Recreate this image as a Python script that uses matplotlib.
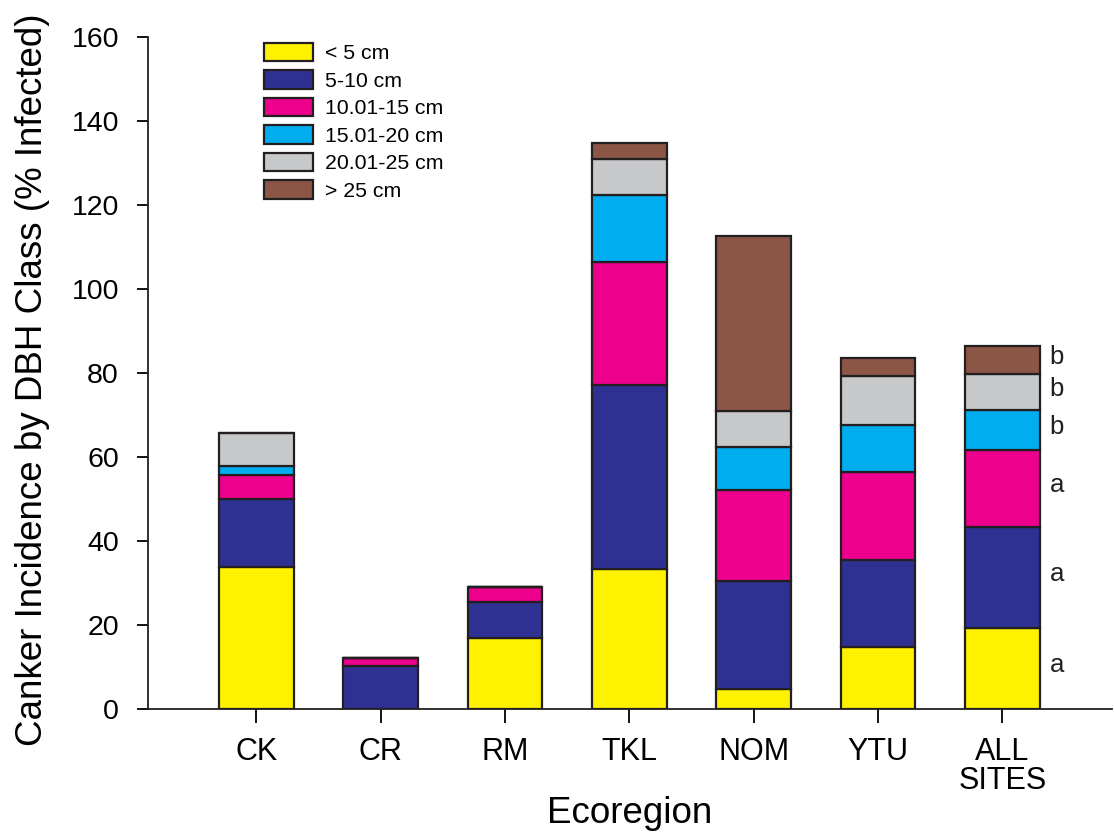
import numpy as np
import matplotlib
matplotlib.use("Agg")
import matplotlib.pyplot as plt

plt.rcParams['font.family'] = ['Liberation Sans', 'DejaVu Sans']

# Ecoregions and DBH classes
ecoregions = ['CK', 'CR', 'RM', 'TKL', 'NOM', 'YTU', 'ALL\nSITES']
classes = ['< 5 cm', '5-10 cm', '10.01-15 cm', '15.01-20 cm', '20.01-25 cm', '> 25 cm']

# Percent infected per class (segment heights, stacked)
lt5 = [33.8, 0.0, 16.9, 33.3, 4.8, 14.8, 19.3]
c5_10 = [16.2, 10.2, 8.6, 43.8, 25.7, 20.7, 24.0]
c10_15 = [5.7, 1.9, 3.5, 29.3, 21.6, 20.9, 18.4]
c15_20 = [2.2, 0.0, 0.0, 16.0, 10.3, 11.2, 9.5]
c20_25 = [7.8, 0.0, 0.0, 8.6, 8.6, 11.7, 8.6]
gt25 = [0.0, 0.0, 0.0, 3.8, 41.6, 4.3, 6.6]

# Significance letters for ALL SITES
letters = ['a', 'a', 'a', 'b', 'b', 'b']

colores = ['#FFF200', '#2E3192', '#EC008C', '#00AEEF', '#C7C8CA', '#8B5646']
series = [lt5, c5_10, c10_15, c15_20, c20_25, gt25]

fig = plt.figure(figsize=(11.14, 8.35), dpi=100)
ax = fig.add_axes([0.1329, 0.1509, 0.865, 0.8048])

x = np.arange(len(ecoregions))
bottom = np.zeros(len(ecoregions))
for vals, col, lab in zip(series, colores, classes):
    vals = np.array(vals)
    ax.bar(x, vals, width=0.6, bottom=bottom, color=col, edgecolor='#231F20',
           linewidth=1.6, label=lab)
    bottom = bottom + vals

# letters next to ALL SITES
base = 0.0
for vals, let in zip(series, letters):
    h = vals[-1]
    ax.text(x[-1] + 0.44, base + h / 2 + 0.8, let, fontsize=18.5, ha='center',
            va='center', color='#231F20')
    base += h

ax.set_xlim(-0.87, 6.88)
ax.set_ylim(0, 160)
ax.set_yticks(np.arange(0, 161, 20))
ax.set_xticks(x)
ax.set_xticklabels(ecoregions, fontsize=22, linespacing=0.95)
ax.tick_params(axis='y', labelsize=20.5, direction='out', length=8, width=1.3, pad=13)
ax.tick_params(axis='x', direction='out', length=10, width=1.3, pad=10)
for s in ['top', 'right']:
    ax.spines[s].set_visible(False)
for s in ['left', 'bottom']:
    ax.spines[s].set_linewidth(1.3)
    ax.spines[s].set_color('#231F20')

ax.set_ylabel('Canker Incidence by DBH Class (% Infected)', fontsize=26.5)
ax.yaxis.set_label_coords(-0.102, 0.49)
ax.set_xlabel('Ecoregion', fontsize=26.5)
ax.xaxis.set_label_coords(0.5, -0.1295)

ax.legend(loc='upper left', bbox_to_anchor=(0.2275, 0.9615), bbox_transform=fig.transFigure,
          frameon=False, fontsize=15.3, handlelength=2.3, handleheight=0.95,
          labelspacing=0.33, handletextpad=0.55, borderpad=0)

fig.savefig('out.png', dpi=100)
